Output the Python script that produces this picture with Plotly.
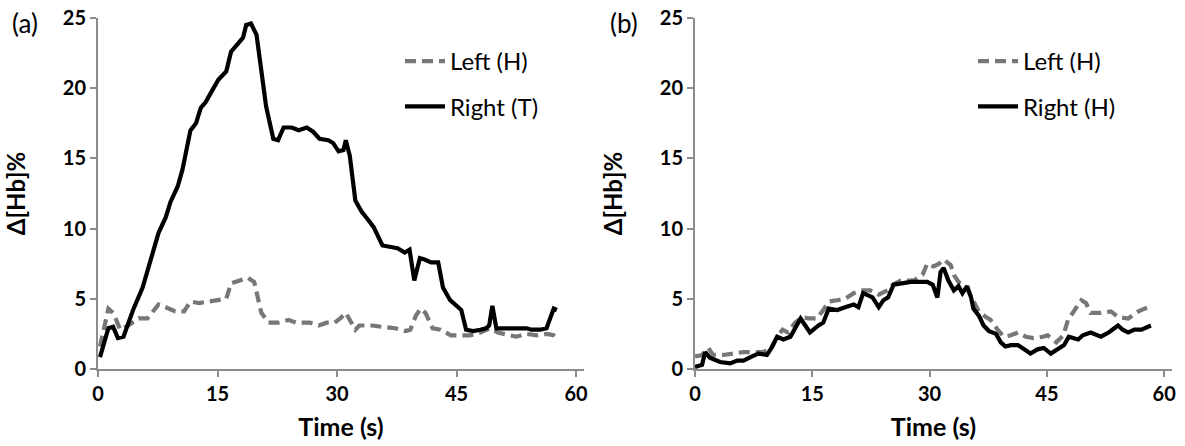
import plotly.graph_objects as go

# ---------------- data ----------------
# Panel (a)
a_right_t = [0.25, 1.3, 1.9, 2.5, 3.2, 4.4, 5.6, 6.6, 7.6, 8.5, 9.1, 10.0, 10.6, 11.6, 12.3, 12.9, 13.5, 14.2,
             15.1, 16.1, 16.7, 17.6, 18.2, 18.6, 19.2, 19.9, 20.5, 21.1, 22.0, 22.6, 23.3, 24.3, 25.2, 26.2,
             27.0, 27.8, 28.9, 29.5, 30.2, 30.8, 31.1, 31.6, 32.3, 33.1, 33.8, 34.6, 35.7, 36.7, 37.6, 38.5,
             39.1, 39.7, 40.4, 41.0, 41.8, 42.7, 43.3, 44.2, 44.8, 45.6, 46.2, 47.1, 48.0, 48.7, 49.1, 49.5,
             50.0, 50.9, 52.5, 53.8, 54.4, 55.5, 56.3, 56.8, 57.2, 57.6]
a_right_v = [0.85, 2.9, 3.0, 2.2, 2.3, 4.2, 5.8, 7.8, 9.7, 10.8, 11.9, 13.0, 14.2, 17.0, 17.5, 18.6, 19.0, 19.7,
             20.6, 21.2, 22.6, 23.2, 23.6, 24.5, 24.6, 23.8, 21.1, 18.7, 16.4, 16.3, 17.2, 17.2, 17.0, 17.2,
             16.9, 16.4, 16.3, 16.1, 15.5, 15.6, 16.3, 15.2, 12.0, 11.2, 10.7, 10.1, 8.8, 8.7, 8.6, 8.3,
             8.5, 6.3, 7.9, 7.8, 7.6, 7.6, 5.8, 4.9, 4.6, 4.2, 2.8, 2.7, 2.8, 2.9, 3.1, 4.5,
             2.9, 2.9, 2.9, 2.9, 2.8, 2.8, 2.9, 3.7, 4.3, 4.2]

a_left_t = [0.25, 0.9, 1.3, 1.9, 2.8, 3.8, 5.1, 6.2, 6.8, 7.6, 8.5, 9.7, 10.8, 11.6, 12.7, 13.9, 15.1, 16.1,
            16.7, 17.7, 18.8, 19.6, 20.1, 20.5, 21.4, 22.6, 23.9, 24.9, 25.6, 26.6, 27.7, 28.7, 29.7, 30.4,
            31.1, 31.6, 32.3, 32.8, 34.4, 35.7, 37.3, 38.6, 39.2, 39.9, 40.5, 41.1, 42.0, 43.0, 44.3, 45.6,
            46.7, 48.0, 49.2, 50.2, 51.2, 52.5, 53.8, 55.1, 56.3, 57.2, 57.6]
a_left_v = [1.6, 3.3, 4.3, 4.0, 2.8, 3.1, 3.6, 3.6, 4.0, 4.6, 4.4, 4.1, 4.1, 4.8, 4.7, 4.8, 4.9, 5.0,
            6.1, 6.3, 6.5, 6.2, 5.1, 4.0, 3.3, 3.3, 3.5, 3.3, 3.3, 3.3, 3.1, 3.3, 3.3, 3.6,
            4.0, 3.5, 2.8, 3.1, 3.1, 3.0, 2.9, 2.7, 2.8, 3.8, 4.3, 4.0, 2.9, 2.8, 2.4, 2.4,
            2.4, 2.6, 2.9, 2.6, 2.5, 2.3, 2.5, 2.4, 2.5, 2.4, 2.2]

# Panel (b)
b_right_t = [0.0, 0.9, 1.3, 1.9, 3.2, 4.5, 5.4, 6.2, 7.3, 8.1, 9.2, 9.9, 10.5, 11.3, 12.2, 12.8, 13.5, 14.1,
             14.7, 15.8, 16.4, 17.1, 18.2, 19.2, 20.3, 20.9, 21.5, 22.7, 23.5, 24.1, 24.7, 25.4, 26.3, 27.6,
             28.8, 29.7, 30.4, 31.0, 31.4, 31.8, 32.4, 33.1, 33.7, 34.2, 34.8, 35.3, 35.6, 36.3, 36.9, 37.6,
             38.5, 39.1, 39.7, 40.4, 41.3, 42.1, 42.9, 43.8, 44.6, 45.5, 46.4, 47.2, 47.8, 48.5, 49.0, 49.6,
             50.6, 51.9, 52.9, 54.1, 54.7, 55.4, 56.2, 57.1, 58.3]
b_right_v = [0.15, 0.3, 1.2, 0.8, 0.5, 0.4, 0.6, 0.6, 0.9, 1.1, 1.0, 1.6, 2.3, 2.1, 2.3, 2.9, 3.6, 3.1,
             2.6, 3.1, 3.3, 4.3, 4.2, 4.4, 4.6, 4.4, 5.4, 5.1, 4.4, 4.9, 5.1, 6.0, 6.1, 6.2,
             6.2, 6.2, 6.0, 5.1, 6.9, 7.2, 6.3, 5.6, 5.9, 5.4, 5.9, 5.1, 4.3, 3.8, 3.1, 2.7,
             2.5, 1.9, 1.6, 1.7, 1.7, 1.4, 1.1, 1.4, 1.5, 1.1, 1.4, 1.7, 2.3, 2.2, 2.1, 2.4,
             2.6, 2.3, 2.6, 3.1, 2.8, 2.6, 2.8, 2.8, 3.1]

b_left_t = [0.0, 0.9, 1.7, 2.3, 3.6, 4.9, 6.2, 7.4, 8.6, 9.6, 10.5, 11.2, 11.9, 12.8, 13.7, 14.5, 15.6, 16.4,
            17.1, 18.2, 19.2, 20.3, 21.2, 22.4, 23.5, 24.6, 25.3, 26.3, 28.0, 29.1, 29.7, 30.5, 31.2, 31.8,
            32.7, 33.1, 33.7, 34.6, 35.5, 36.3, 37.2, 37.8, 38.7, 39.5, 40.4, 41.3, 42.3, 43.3, 44.5, 45.1,
            46.2, 47.1, 47.7, 48.5, 49.4, 50.0, 50.6, 51.9, 53.2, 54.1, 55.4, 56.7, 57.9]
b_left_v = [0.9, 1.0, 1.5, 1.0, 1.0, 1.1, 1.2, 1.2, 1.2, 1.4, 2.3, 2.8, 2.6, 3.3, 3.7, 3.6, 3.6, 4.2,
            4.8, 4.9, 5.0, 5.4, 5.6, 5.6, 5.3, 5.6, 6.0, 6.3, 6.3, 6.7, 7.5, 7.3, 7.5, 7.8,
            7.4, 6.7, 6.2, 5.9, 4.9, 4.1, 3.7, 3.5, 2.8, 2.3, 2.4, 2.6, 2.3, 2.2, 2.3, 2.4,
            1.9, 2.4, 3.5, 4.2, 4.9, 4.7, 4.0, 4.0, 4.1, 3.7, 3.6, 4.1, 4.4]

x_ticks = [0, 15, 30, 45, 60]
y_ticks = [0, 5, 10, 15, 20, 25]

# ---------------- figure ----------------
W, H = 1185, 446
FONT = "Lato, 'Open Sans', sans-serif"
GRAY = "#777777"
AXIS = "#8c8c8c"

fig = go.Figure()

def add(t, v, name, xa, ya, dashed, leg, grp):
    fig.add_trace(go.Scatter(
        x=t, y=v, mode="lines", name=name, xaxis=xa, yaxis=ya,
        line=dict(color=GRAY if dashed else "#000000", width=4.2,
                  dash="11px,6px" if dashed else "solid"),
        legend=leg, legendgroup=grp, showlegend=True,
    ))

add(a_left_t, a_left_v, "Left (H)", "x", "y", True, "legend", "a1")
add(a_right_t, a_right_v, "Right (T)", "x", "y", False, "legend", "a2")
add(b_left_t, b_left_v, "Left (H)", "x2", "y2", True, "legend2", "b1")
add(b_right_t, b_right_v, "Right (H)", "x2", "y2", False, "legend2", "b2")

def px_x(p):
    return p / W

def px_y(p):
    return 1 - p / H

ax_common = dict(
    showgrid=False, zeroline=False, showline=True, linecolor=AXIS, linewidth=2,
    ticks="outside", ticklen=6, tickwidth=2, tickcolor=AXIS,
    tickfont=dict(family=FONT, size=20, color="#000000", weight="bold"),
    fixedrange=True, automargin=False,
)

xa = dict(ax_common, range=[0, 61], tickvals=x_ticks, ticktext=[str(v) for v in x_ticks],
          title=dict(text="<b>Time (s)</b>", font=dict(family=FONT, size=25, color="#000"), standoff=14))
ya = dict(ax_common, range=[0, 25], tickvals=y_ticks, ticktext=[str(v) for v in y_ticks],
          title=dict(text="<b>Δ[Hb]%</b>", font=dict(family=FONT, size=24, color="#000"), standoff=30))

LEGFONT = dict(family=FONT, size=24, color="#000")

fig.update_layout(
    width=W, height=H,
    margin=dict(l=0, r=0, t=0, b=0),
    paper_bgcolor="white", plot_bgcolor="white",
    xaxis=dict(xa, domain=[px_x(98), px_x(584)], anchor="y"),
    yaxis=dict(ya, domain=[px_y(369), px_y(18)], anchor="x"),
    xaxis2=dict(xa, domain=[px_x(695), px_x(1172)], anchor="y2"),
    yaxis2=dict(ya, domain=[px_y(369), px_y(18)], anchor="x2"),
    legend=dict(x=px_x(400), y=px_y(39), xanchor="left", yanchor="top",
                font=LEGFONT, bgcolor="rgba(0,0,0,0)", tracegroupgap=11, itemwidth=40),
    legend2=dict(x=px_x(973), y=px_y(39), xanchor="left", yanchor="top",
                 font=LEGFONT, bgcolor="rgba(0,0,0,0)", tracegroupgap=11, itemwidth=40),
    showlegend=True,
)

fig.add_annotation(text="(a)", x=px_x(10), y=px_y(5), xref="paper", yref="paper",
                   xanchor="left", yanchor="top", showarrow=False,
                   font=dict(family=FONT, size=26, color="#000"))
fig.add_annotation(text="(b)", x=px_x(608), y=px_y(5), xref="paper", yref="paper",
                   xanchor="left", yanchor="top", showarrow=False,
                   font=dict(family=FONT, size=26, color="#000"))

fig.write_html("out.html")
